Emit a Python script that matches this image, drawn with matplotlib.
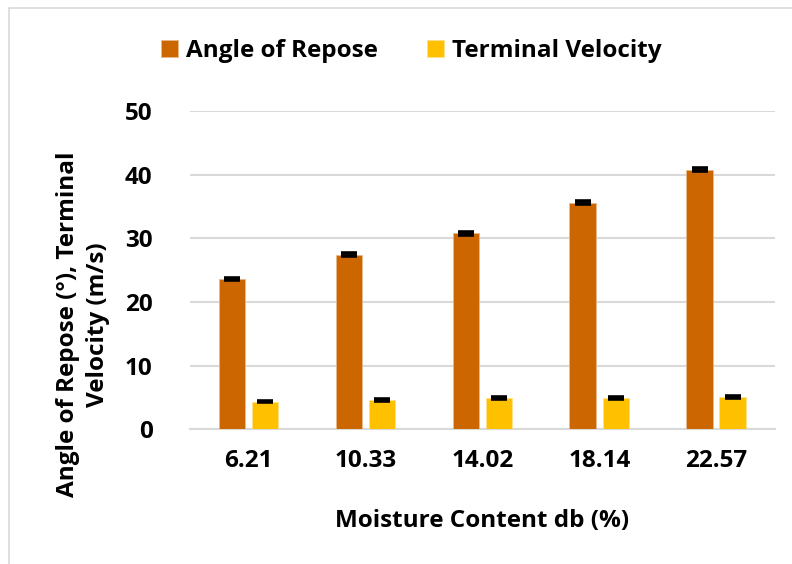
import numpy as np
import matplotlib.pyplot as plt
from matplotlib.patches import Rectangle

# data
moisture = ["6.21", "10.33", "14.02", "18.14", "22.57"]
angle_repose = [23.6, 27.45, 30.8, 35.6, 40.8]
terminal_vel = [4.35, 4.6, 4.87, 4.97, 5.13]
angle_err = [0.2, 0.2, 0.2, 0.25, 0.2]
vel_err = [0.15, 0.15, 0.15, 0.15, 0.15]

plt.rcParams['font.family'] = ['Open Sans', 'DejaVu Sans']
plt.rcParams['font.weight'] = 'bold'
fs = 17.5

fig = plt.figure(figsize=(7.92, 5.64), dpi=100)
ax = fig.add_axes([0.24, 0.239, 0.738, 0.564])

x = np.arange(len(moisture))
w = 0.227
off = w / 2 + 0.028
ekw = dict(ecolor='black', elinewidth=1.2, capsize=6, capthick=2.6)
ax.bar(x - off, angle_repose, w, color='#CC6600', edgecolor='#E8B88A', linewidth=0.6,
       yerr=angle_err, error_kw=ekw, label='Angle of Repose', zorder=3)
ax.bar(x + off, terminal_vel, w, color='#FFC000', edgecolor='#FFE08A', linewidth=0.6,
       yerr=vel_err, error_kw=ekw, label='Terminal Velocity', zorder=3)

ax.set_xlim(-0.5, 4.5)
ax.set_ylim(0, 50)
ax.set_yticks([0, 10, 20, 30, 40, 50])
ax.set_xticks(x)
ax.set_xticklabels(moisture)
ax.tick_params(length=0, labelsize=fs)
ax.tick_params(axis='x', pad=14)
ax.tick_params(axis='y', pad=27)
for lab in ax.get_xticklabels() + ax.get_yticklabels():
    lab.set_fontweight('bold')
ax.grid(axis='y', color='#D9D9D9', linewidth=1.5, zorder=0)
for s in ['top', 'right', 'left']:
    ax.spines[s].set_visible(False)
ax.spines['bottom'].set_color('#D9D9D9')
ax.spines['bottom'].set_linewidth(1.5)

ax.set_xlabel('Moisture Content db (%)', fontsize=fs, fontweight='bold', labelpad=26)
ax.set_ylabel('Angle of Repose (°), Terminal\nVelocity (m/s)', fontsize=fs,
              fontweight='bold', linespacing=1.35)
ax.yaxis.set_label_coords(-0.137, 0.33)

ax.legend(loc='center', bbox_to_anchor=(0.378, 1.19), ncol=2, frameon=False,
          handlelength=0.7, handleheight=0.7, handletextpad=0.35,
          columnspacing=2.0, prop={'weight': 'bold', 'size': fs})

fig.patches.append(Rectangle((0.011, -0.01), 0.99, 0.996, transform=fig.transFigure,
                             fill=False, edgecolor='#D9D9D9', linewidth=1.2))

fig.savefig('out.png', dpi=100)
